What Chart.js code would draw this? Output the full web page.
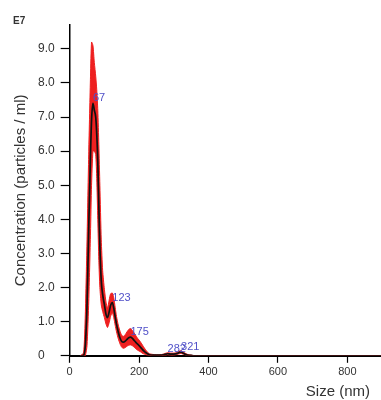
<!DOCTYPE html>
<html>
<head>
<meta charset="utf-8">
<script src="https://cdn.jsdelivr.net/npm/chart.js@4"></script>
<style>
  html, body { margin: 0; padding: 0; background: #fff; }
  #wrap { width: 381px; height: 400px; }
</style>
</head>
<body>
<div id="wrap"><canvas id="chart"></canvas></div>
<script>
// Particle size distribution (nm) with mean concentration and error band, units of 1e7 particles/ml
const sizes = [30, 40, 45, 50, 55, 60, 63, 67, 71, 75,
    78, 81, 84, 87, 91, 95, 100, 105, 109, 114,
    118, 123, 127, 131, 135, 140, 145, 150, 155, 160,
    165, 170, 175, 180, 185, 190, 195, 200, 205, 210,
    215, 220, 225, 230, 240, 250, 260, 270, 278, 282,
    290, 300, 310, 316, 321, 326, 332, 340, 350, 360,
    400, 900];
const meanConc = [0, 0.02, 0.3, 1.5, 3.8, 5.9, 6.9, 7.4, 7.2, 7.0,
    6.5, 5.7, 4.4, 3.2, 2.2, 1.8, 1.5, 1.2, 1.12, 1.3,
    1.48, 1.56, 1.4, 1.15, 0.92, 0.7, 0.52, 0.42, 0.4, 0.43,
    0.48, 0.53, 0.55, 0.52, 0.46, 0.4, 0.35, 0.3, 0.24, 0.18,
    0.13, 0.09, 0.06, 0.03, 0.02, 0.02, 0.02, 0.03, 0.05, 0.06,
    0.05, 0.05, 0.07, 0.1, 0.11, 0.08, 0.05, 0.02, 0.01, 0,
    0, 0];
const upperConc = [0, 0.08, 1.2, 3.4, 6.0, 8.2, 9.2, 9.1, 8.6, 8.2,
    7.8, 7.2, 6.2, 5.0, 3.4, 2.5, 1.95, 1.55, 1.4, 1.65,
    1.82, 1.84, 1.7, 1.42, 1.15, 0.9, 0.72, 0.6, 0.57, 0.62,
    0.7, 0.77, 0.8, 0.75, 0.68, 0.6, 0.52, 0.46, 0.39, 0.31,
    0.23, 0.16, 0.1, 0.06, 0.04, 0.03, 0.03, 0.05, 0.08, 0.09,
    0.08, 0.08, 0.1, 0.14, 0.15, 0.12, 0.08, 0.04, 0.02, 0,
    0, 0];
const lowerConc = [0, 0, 0, 0.3, 1.6, 3.6, 5.0, 6.0, 6.0, 5.9,
    5.2, 4.0, 2.8, 2.0, 1.5, 1.3, 1.12, 0.92, 0.83, 0.98,
    1.16, 1.26, 1.12, 0.9, 0.7, 0.5, 0.35, 0.25, 0.22, 0.24,
    0.28, 0.31, 0.32, 0.3, 0.26, 0.21, 0.17, 0.14, 0.11, 0.07,
    0.05, 0.03, 0.02, 0.01, 0, 0, 0.01, 0.01, 0.02, 0.03,
    0.02, 0.02, 0.04, 0.06, 0.07, 0.05, 0.03, 0, 0, 0,
    0, 0];

// Peak markers
const peakSizes = [67, 123, 175, 282, 321];
const peakConc = [7.4, 1.56, 0.55, 0.06, 0.11];
const peakLabels = ['67', '123', '175', '282', '321'];

const yTicks = [0, 1, 2, 3, 4, 5, 6, 7, 8, 9];
const xTicks = [0, 200, 400, 600, 800];

const FONT = '"Liberation Sans", Arial, sans-serif';
const toPoints = vals => sizes.map((s, i) => ({ x: s, y: vals[i] }));

// Draws the peak labels, the exponent note and both axis titles
const annotations = {
    id: 'annotations',
    afterDatasetsDraw(chart) {
        const { ctx, scales: { x, y }, chartArea } = chart;
        ctx.save();
        ctx.textBaseline = 'middle';
        ctx.textAlign = 'left';
        ctx.fillStyle = '#5050c8';
        ctx.font = '11px ' + FONT;
        peakSizes.forEach((s, i) => {
            ctx.fillText(peakLabels[i], x.getPixelForValue(s), y.getPixelForValue(peakConc[i]) - 5);
        });

        ctx.fillStyle = '#333';
        ctx.font = 'bold 10px ' + FONT;
        ctx.fillText('E7', 13, 21);

        ctx.font = '15px ' + FONT;
        ctx.textAlign = 'right';
        ctx.fillText('Size (nm)', chartArea.right - 11, 392);

        ctx.translate(21, (chartArea.top + chartArea.bottom) / 2);
        ctx.rotate(-Math.PI / 2);
        ctx.textAlign = 'center';
        ctx.fillText('Concentration (particles / ml)', 0, 0);
        ctx.restore();
    }
};

new Chart(document.getElementById('chart'), {
    type: 'line',
    data: {
        datasets: [
            {
                label: 'Upper',
                data: toPoints(upperConc),
                borderColor: '#ee2020',
                borderWidth: 1,
                backgroundColor: '#ee2020',
                fill: '+1',
                pointRadius: 0,
                tension: 0.2,
                order: 1
            },
            {
                label: 'Lower',
                data: toPoints(lowerConc),
                borderColor: '#ee2020',
                borderWidth: 1,
                fill: false,
                pointRadius: 0,
                tension: 0.2,
                order: 1
            },
            {
                label: 'Mean',
                data: toPoints(meanConc),
                borderColor: '#111',
                borderWidth: 1.7,
                fill: false,
                pointRadius: 0,
                cubicInterpolationMode: 'monotone',
                order: 0
            }
        ]
    },
    options: {
        responsive: true,
        maintainAspectRatio: false,
        animation: false,
        layout: { padding: { left: 38, top: 25, right: 0, bottom: 18 } },
        plugins: {
            legend: { display: false },
            tooltip: { enabled: false }
        },
        scales: {
            x: {
                type: 'linear',
                min: 0,
                max: 897,
                afterBuildTicks: axis => { axis.ticks = xTicks.map(v => ({ value: v })); },
                ticks: {
                    font: { family: FONT, size: 11 },
                    color: '#333',
                    padding: 3,
                    maxRotation: 0
                },
                grid: { drawOnChartArea: false, tickLength: 7, color: '#000', tickWidth: 1.2 },
                border: { color: '#000', width: 2 }
            },
            y: {
                type: 'linear',
                min: 0,
                max: 9.7,
                afterBuildTicks: axis => { axis.ticks = yTicks.map(v => ({ value: v })); },
                ticks: {
                    callback: v => v === 0 ? '0' : v.toFixed(1),
                    font: { family: FONT, size: 12 },
                    color: '#333',
                    padding: 3,
                    crossAlign: 'far'
                },
                grid: { drawOnChartArea: false, tickLength: 9, color: '#000', tickWidth: 1.2 },
                border: { color: '#000', width: 1.5 }
            }
        }
    },
    plugins: [annotations]
});
</script>
</body>
</html>
